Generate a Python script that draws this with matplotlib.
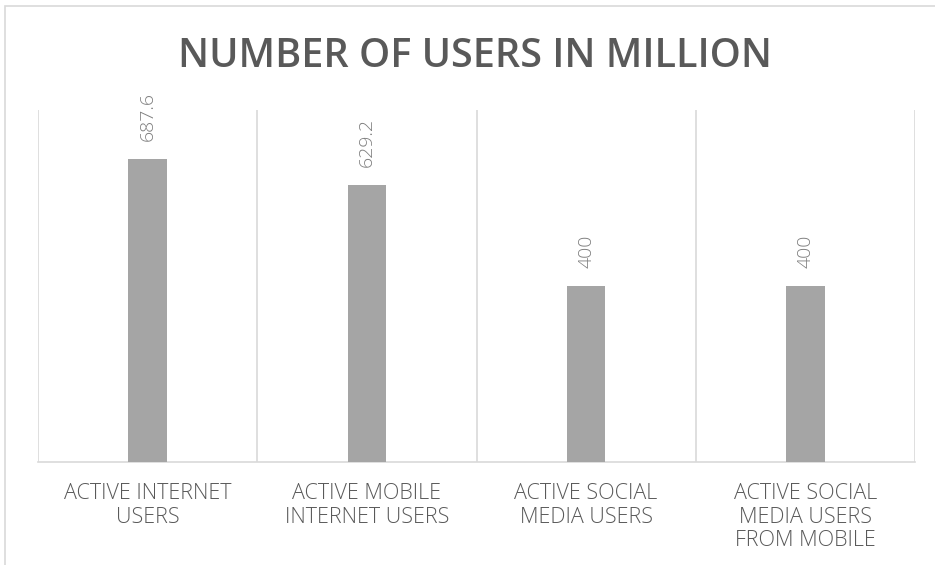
import matplotlib
matplotlib.use("Agg")
import matplotlib.pyplot as plt
from matplotlib.patches import Rectangle

categories = ["ACTIVE INTERNET\nUSERS", "ACTIVE MOBILE\nINTERNET USERS",
              "ACTIVE SOCIAL\nMEDIA USERS", "ACTIVE SOCIAL\nMEDIA USERS\nFROM MOBILE"]
values = [687.6, 629.2, 400, 400]
value_labels = ["687.6", "629.2", "400", "400"]

fig = plt.figure(figsize=(9.35, 5.65), dpi=100)
fig.patch.set_facecolor("white")
# outer chart-area border (top and left visible)
fig.add_artist(Rectangle((5/935, -0.1), 1.2, 1 - 6/565 + 0.1, transform=fig.transFigure,
                         fill=False, edgecolor="#d9d9d9", linewidth=1.2))

ax = fig.add_axes([38/935, (565-462)/565, (915-38)/935, (462-110)/565])
x = list(range(len(values)))
ax.bar(x, values, width=0.175, color="#a5a5a5", zorder=3)
ax.set_xlim(-0.5, len(values) - 0.5)
ax.set_ylim(0, 800)
for b in [i - 0.5 for i in range(len(values) + 1)]:
    ax.axvline(b, color="#d9d9d9", linewidth=1.2, zorder=1)
for s in ["top", "left", "right"]:
    ax.spines[s].set_visible(False)
ax.spines["bottom"].set_color("#d9d9d9")
ax.spines["bottom"].set_linewidth(1.2)
ax.set_yticks([])
ax.set_xticks(x)
ax.set_xticklabels(categories, fontsize=15.5, color="#595959", family="Open Sans",
                   fontweight="light", linespacing=1.17)
ax.tick_params(axis="x", length=0, pad=15)

for xi, v, lab in zip(x, values, value_labels):
    ax.annotate(lab, (xi, v), xytext=(0, 13), textcoords="offset points",
                rotation=90, ha="center", va="bottom", fontsize=14,
                color="#7f7f7f", family="Open Sans", fontweight="light")

fig.text(475/935, 1 - 57/565, "NUMBER OF USERS IN MILLION", ha="center", va="center",
         fontsize=28.5, fontweight="semibold", color="#595959", family="Open Sans")

fig.savefig("out.png", dpi=100)
